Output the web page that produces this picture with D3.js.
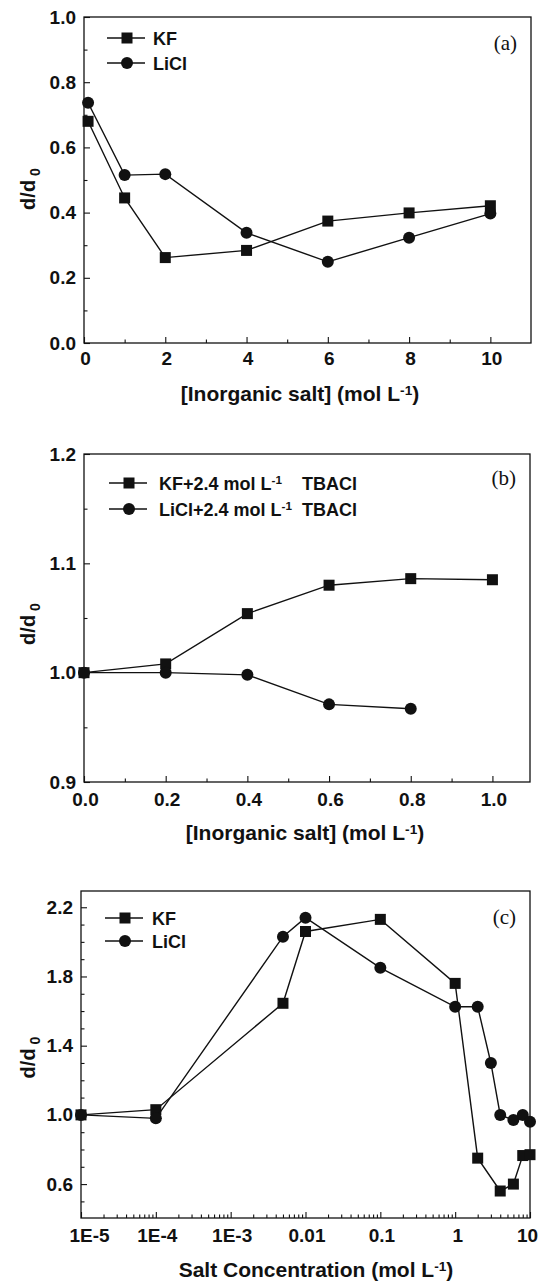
<!DOCTYPE html>
<html>
<head>
<meta charset="utf-8">
<script src="https://cdn.jsdelivr.net/npm/d3@7"></script>
<style>
  body { margin: 0; background: #fff; }
  svg text { font-family: "Liberation Sans", Arial, sans-serif; font-weight: bold; fill: #111; }
</style>
</head>
<body>
<svg id="chart" width="539" height="1281"></svg>
<script>
// ---- panel (a) ----
var saltA = [0.1, 1, 2, 4, 6, 8, 10];
var kfA = [0.68, 0.445, 0.262, 0.284, 0.374, 0.399, 0.421];
var liclA = [0.737, 0.515, 0.518, 0.338, 0.249, 0.323, 0.397];
var xTicksA = [0, 2, 4, 6, 8, 10];
var yTicksA = [0.0, 0.2, 0.4, 0.6, 0.8, 1.0];

// ---- panel (b) ----
var saltKfB = [0, 0.2, 0.4, 0.6, 0.8, 1.0];
var kfB = [1.0, 1.008, 1.054, 1.080, 1.086, 1.085];
var saltLiclB = [0, 0.2, 0.4, 0.6, 0.8];
var liclB = [1.0, 1.0, 0.998, 0.971, 0.967];
var xTicksB = [0.0, 0.2, 0.4, 0.6, 0.8, 1.0];
var yTicksB = [0.9, 1.0, 1.1, 1.2];

// ---- panel (c) ----
var concKfC = [1e-5, 1e-4, 0.005, 0.01, 0.1, 1, 2, 4, 6, 8, 10];
var kfC = [1.0, 1.03, 1.645, 2.06, 2.13, 1.76, 0.75, 0.56, 0.60, 0.765, 0.77];
var concLiclC = [1e-5, 1e-4, 0.005, 0.01, 0.1, 1, 2, 3, 4, 6, 8, 10];
var liclC = [1.0, 0.98, 2.03, 2.14, 1.85, 1.625, 1.625, 1.30, 1.0, 0.97, 1.0, 0.96];
var xTicksC = [1e-5, 1e-4, 1e-3, 0.01, 0.1, 1, 10];
var xLabelsC = ["1E-5", "1E-4", "1E-3", "0.01", "0.1", "1", "10"];
var yTicksC = [0.6, 1.0, 1.4, 1.8, 2.2];

var ink = "#111";
var svg = d3.select("#chart");

// parts: [text, kind, dx, x]; kind "sup" raises a small "-1", "back" returns to baseline
function richText(textSel, parts) {
  parts.forEach(function(p) {
    var t = textSel.append("tspan").text(p[0]);
    if (p[1] === "sup") t.attr("dy", -6).style("font-size", "0.65em");
    if (p[1] === "back") t.attr("dy", 6);
    if (p[1] === "sub") t.attr("dy", 5).style("font-size", "0.7em");
    if (p[2]) t.attr("dx", p[2]);
    if (p[3]) t.attr("x", p[3]);
  });
}

function drawPanel(o) {
  var g = svg.append("g");
  var x = o.x, y = o.y;
  var L = x.range()[0], R = x.range()[1], B = y.range()[0], T = y.range()[1];

  // minor ticks, pointing inward
  g.append("g").attr("transform", "translate(0," + B + ")")
    .call(d3.axisBottom(x).tickValues(o.xMinor).tickSize(-3.5).tickFormat(""))
    .call(function(a) { a.select(".domain").remove(); });
  g.append("g").attr("transform", "translate(" + L + ",0)")
    .call(d3.axisLeft(y).tickValues(o.yMinor).tickSize(-3.5).tickFormat(""))
    .call(function(a) { a.select(".domain").remove(); });

  // major ticks + labels
  var xa = g.append("g").attr("transform", "translate(0," + B + ")")
    .call(d3.axisBottom(x).tickValues(o.xTicks).tickSize(-6).tickPadding(o.xPad || 11)
      .tickFormat(o.xFormat));
  xa.select(".domain").remove();
  xa.selectAll("text").style("font-size", "19px")
    .attr("dx", function(d, i) { return o.xdx ? o.xdx[i] : 1; });

  var ya = g.append("g").attr("transform", "translate(" + L + ",0)")
    .call(d3.axisLeft(y).tickValues(o.yTicks).tickSize(-6).tickPadding(8)
      .tickFormat(d3.format(".1f")));
  ya.select(".domain").remove();
  ya.selectAll("text").style("font-size", "19px");

  g.selectAll(".tick line").attr("stroke", ink).attr("stroke-width", 1.1);

  // frame
  g.append("rect").attr("x", L).attr("y", T).attr("width", R - L).attr("height", B - T)
    .attr("fill", "none").attr("stroke", ink).attr("stroke-width", 1.3);

  // series
  var line = d3.line().x(function(d) { return x(d[0]); }).y(function(d) { return y(d[1]); });
  o.series.forEach(function(s) {
    var pts = d3.zip(s.x, s.y);
    g.append("path").datum(pts).attr("d", line)
      .attr("fill", "none").attr("stroke", ink).attr("stroke-width", 1.4);
    drawMarkers(g, pts.map(function(p) { return [x(p[0]), y(p[1])]; }), s.shape);
  });

  // legend
  o.series.forEach(function(s, i) {
    var ly = o.legendY + i * o.legendGap;
    g.append("line").attr("x1", o.legendX).attr("x2", o.legendX + 38)
      .attr("y1", ly).attr("y2", ly).attr("stroke", ink).attr("stroke-width", 1.4);
    drawMarkers(g, [[o.legendX + 20, ly]], s.shape);
    var t = g.append("text").attr("x", o.legendX + o.legendTextDx).attr("y", ly + 6.5)
      .style("font-size", "18px");
    richText(t, s.label);
  });

  // panel tag
  g.append("text").attr("x", R - 14).attr("y", o.tagY).attr("text-anchor", "end")
    .style("font-family", "'Liberation Serif', 'Times New Roman', serif")
    .style("font-weight", "normal").style("font-size", "21px").text(o.tag);

  // axis titles
  var xt = g.append("text").attr("x", o.xTitleX).attr("y", o.xTitleY)
    .attr("text-anchor", "middle").style("font-size", "21px");
  richText(xt, o.xTitle);

  var yt = g.append("text")
    .attr("transform", "translate(35," + ((T + B) / 2 + o.yTitleDy) + ") rotate(-90)")
    .attr("text-anchor", "middle").style("font-size", "20px");
  richText(yt, [["d/d"], ["0", "sub", 4]]);
}

function drawMarkers(g, pts, shape) {
  if (shape === "square") {
    g.selectAll(null).data(pts).enter().append("rect")
      .attr("x", function(d) { return d[0] - 5.5; })
      .attr("y", function(d) { return d[1] - 5.5; })
      .attr("width", 11).attr("height", 11).attr("fill", ink);
  } else {
    g.selectAll(null).data(pts).enter().append("circle")
      .attr("cx", function(d) { return d[0]; })
      .attr("cy", function(d) { return d[1]; })
      .attr("r", 6).attr("fill", ink);
  }
}

// (a)
drawPanel({
  x: d3.scaleLinear().domain([0, 11]).range([84, 531]),
  y: d3.scaleLinear().domain([0, 1.0]).range([343, 17]),
  xTicks: xTicksA, yTicks: yTicksA,
  xMinor: [1, 3, 5, 7, 9], yMinor: [0.1, 0.3, 0.5, 0.7, 0.9],
  xFormat: d3.format("d"), xPad: 9,
  series: [
    { x: saltA, y: kfA, shape: "square", label: [["KF"]] },
    { x: saltA, y: liclA, shape: "circle", label: [["LiCl"]] }
  ],
  legendX: 107, legendTextDx: 46, legendY: 38, legendGap: 25,
  tag: "(a)", tagY: 50,
  xTitle: [["[Inorganic salt] (mol L"], ["-1", "sup"], [")", "back"]],
  xTitleX: 300, xTitleY: 401, yTitleDy: 9
});

// (b)
drawPanel({
  x: d3.scaleLinear().domain([0, 1.092]).range([84, 530]),
  y: d3.scaleLinear().domain([0.9, 1.2]).range([782, 454]),
  xTicks: xTicksB, yTicks: yTicksB,
  xMinor: [0.1, 0.3, 0.5, 0.7, 0.9], yMinor: [0.95, 1.05, 1.15],
  xFormat: d3.format(".1f"),
  series: [
    { x: saltKfB, y: kfB, shape: "square",
      label: [["KF+2.4 mol L"], ["-1", "sup"], ["TBACl", "back", null, 302]] },
    { x: saltLiclB, y: liclB, shape: "circle",
      label: [["LiCl+2.4 mol L"], ["-1", "sup"], ["TBACl", "back", null, 302]] }
  ],
  legendX: 109, legendTextDx: 50, legendY: 483, legendGap: 26,
  tag: "(b)", tagY: 485,
  xTitle: [["[Inorganic salt] (mol L"], ["-1", "sup"], [")", "back"]],
  xTitleX: 305, xTitleY: 840, yTitleDy: 6
});

// (c)
var minorC = [];
d3.range(-5, 1).forEach(function(e) {
  d3.range(2, 10).forEach(function(m) { minorC.push(m * Math.pow(10, e)); });
});
var yMinorC = d3.range(5, 23).map(function(v) { return v / 10; })
  .filter(function(v) { return yTicksC.indexOf(v) < 0; });

drawPanel({
  x: d3.scaleLog().domain([1e-5, 10]).range([81, 530]),
  y: d3.scaleLinear().domain([0.404, 2.294]).range([1218, 891]),
  xTicks: xTicksC, yTicks: yTicksC,
  xMinor: minorC, yMinor: yMinorC,
  xFormat: function(d) { return xLabelsC[xTicksC.indexOf(d)]; },
  xdx: [8, 1, 1, 1, 1, 2, -3],
  series: [
    { x: concKfC, y: kfC, shape: "square", label: [["KF"]] },
    { x: concLiclC, y: liclC, shape: "circle", label: [["LiCl"]] }
  ],
  legendX: 105, legendTextDx: 47, legendY: 918, legendGap: 23,
  tag: "(c)", tagY: 924,
  xTitle: [["Salt Concentration (mol L"], ["-1", "sup"], [")", "back"]],
  xTitleX: 316, xTitleY: 1277, yTitleDy: 3
});
</script>
</body>
</html>
